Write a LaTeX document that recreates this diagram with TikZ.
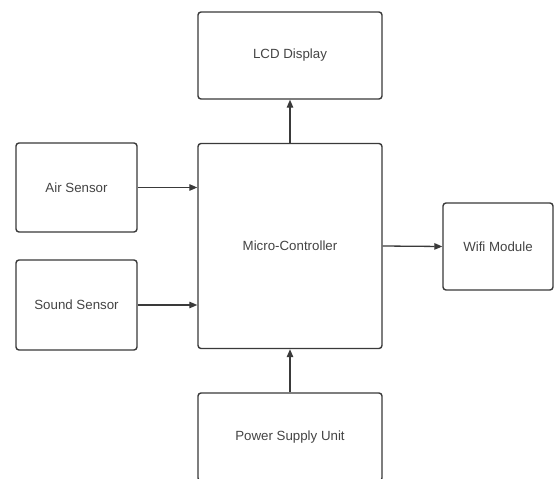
\documentclass[tikz,border=0pt]{standalone}
\usepackage{fontspec}
\setmainfont{Liberation Sans}
\usetikzlibrary{arrows.meta,positioning}
\definecolor{linegray}{HTML}{3A3A3A}
\definecolor{textgray}{HTML}{444444}
\tikzset{
  blockbox/.style={draw=linegray, line width=1.4pt, rounded corners=3pt, fill=white,
    text=textgray, font=\fontsize{13.3}{16}\selectfont, align=center, inner sep=0pt},
  conn/.style={draw=linegray, line width=1.3pt, -{Triangle[length=8pt,width=6.5pt]}}
}
\begin{document}
\begin{tikzpicture}[x=1pt,y=-1pt]
\useasboundingbox (0,0) rectangle (555,479);
\clip (0,0) rectangle (555,479);
\fill[white] (0,0) rectangle (555,479);
\node[blockbox, minimum width=184pt, minimum height=87pt] (lcd) at (290,55.5) {LCD Display};
\node[blockbox, minimum width=184pt, minimum height=205pt] (mcu) at (290,246) {Micro-Controller};
\node[blockbox, minimum width=121pt, minimum height=89pt] (air) at (76.5,187.5) {Air Sensor};
\node[blockbox, minimum width=121pt, minimum height=90pt] (sound) at (76.5,305) {Sound Sensor};
\node[blockbox, minimum width=110pt, minimum height=87pt] (wifi) at (498,246.5) {Wifi Module};
\node[blockbox, minimum width=184pt, minimum height=88pt] (psu) at (290,437) {Power Supply Unit};
\draw[conn] (mcu.north) -- (lcd.south);
\draw[conn] (air.east) -- (air.east -| mcu.west);
\draw[conn] (sound.east) -- (sound.east -| mcu.west);
\draw[conn] (mcu.east) -- (wifi.west);
\draw[conn] (psu.north) -- (mcu.south);
\end{tikzpicture}
\end{document}
